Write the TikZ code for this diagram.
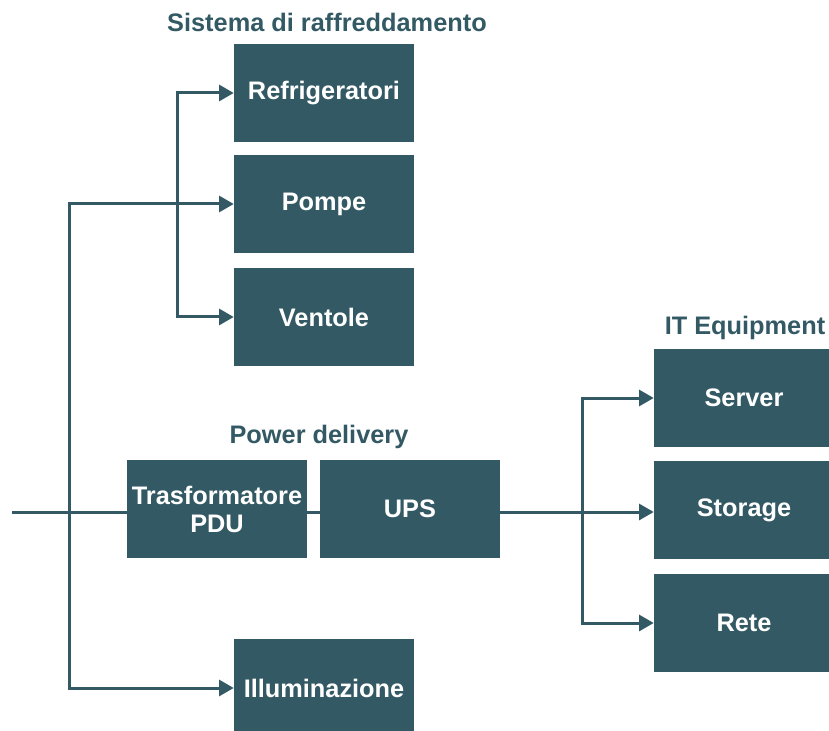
\documentclass[tikz,border=0pt]{standalone}
\usepackage{fontspec}
\setmainfont{Liberation Sans}
\usepackage{xcolor}
\definecolor{petrolio}{RGB}{51,90,100}
\usetikzlibrary{arrows.meta,calc}
\tikzset{
	blocco/.style={
			fill=petrolio, draw=none, text=white, font=\fontsize{19}{21}\selectfont\bfseries,
			minimum width=135pt, minimum height=73pt, inner sep=0pt, align=center
		},
	titolo/.style={text=petrolio, font=\fontsize{19}{21}\selectfont\bfseries, inner sep=0pt},
	linea/.style={draw=petrolio, line width=2.25pt},
	freccia/.style={linea, -{Triangle[length=11pt,width=12pt]}}
}

\begin{document}
\begin{tikzpicture}[x=0.75pt,y=-0.75pt]
		\useasboundingbox (0,0) rectangle (829,731);
		
		% raffreddamento
		\node[titolo] at (327,22) {Sistema di raffreddamento};
		\node[blocco] (refr) at (324,93) {Refrigeratori};
		\node[blocco] (pompe) at (324,204) {Pompe};
		\node[blocco] (vent) at (324,317) {Ventole};
		
		% power delivery
		\node[titolo] at (319,437) {Power delivery};
		\node[blocco] (trasf) at (217,509) {Trasformatore\\PDU};
		\node[blocco] (ups) at (410,509) {UPS};
		
		% IT
		\node[titolo] at (745,328) {IT Equipment};
		\node[blocco] (server) at (744,398) {Server};
		\node[blocco] (stor) at (744,510) {Storage};
		\node[blocco] (rete) at (744,623) {Rete};
		
		\node[blocco] (illum) at (324,688) {Illuminazione};
		
		\coordinate (in) at (12,512);
		\coordinate (spinaA) at (69,512);
		\coordinate (spinaB) at (177,204);
		\coordinate (spinaC) at (582,512);
		
		\draw[linea] (in) -- (trasf.west |- in);
		\draw[linea] (trasf.east |- in) -- (ups.west |- in);
		\draw[linea] (ups.east |- in) -- (spinaC);
		
		\draw[freccia] (spinaA) |- (pompe.west);
		\draw[freccia] (spinaA) |- (illum.west);
		\draw[freccia] (spinaB) |- (refr.west);
		\draw[freccia] (spinaB) |- (vent.west);
		\draw[freccia] (spinaC) |- (server.west);
		\draw[freccia] (spinaC) -- (stor.west |- spinaC);
		\draw[freccia] (spinaC) |- (rete.west);
	\end{tikzpicture}
\end{document}
